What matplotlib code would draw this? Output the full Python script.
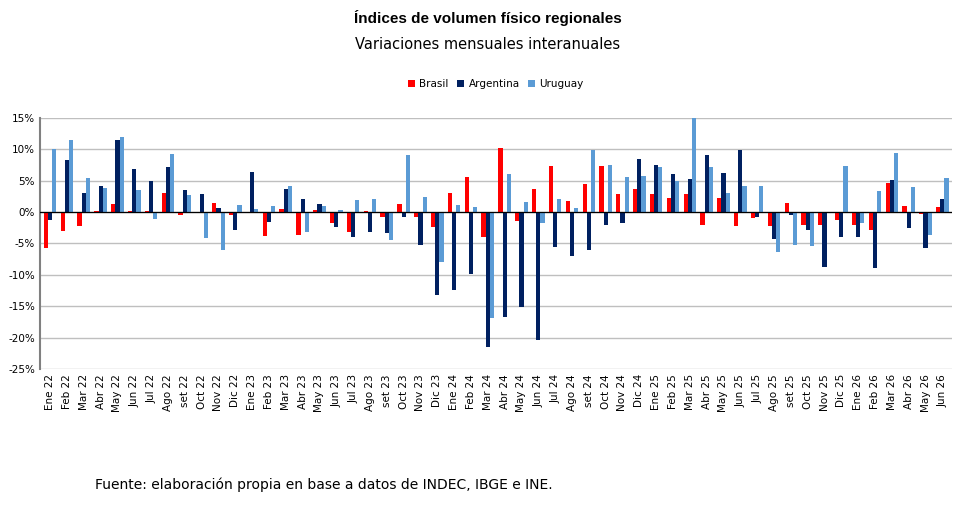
import matplotlib
matplotlib.use("Agg")
import matplotlib.pyplot as plt
import numpy as np

months = ["Ene 22","Feb 22","Mar 22","Abr 22","May 22","Jun 22","Jul 22","Ago 22","set 22","Oct 22","Nov 22","Dic 22",
          "Ene 23","Feb 23","Mar 23","Abr 23","May 23","Jun 23","Jul 23","Ago 23","set 23","Oct 23","Nov 23","Dic 23",
          "Ene 24","Feb 24","Mar 24","Abr 24","May 24","Jun 24","Jul 24","Ago 24","set 24","Oct 24","Nov 24","Dic 24",
          "Ene 25","Feb 25","Mar 25","Abr 25","May 25","Jun 25","Jul 25","Ago 25","set 25","Oct 25","Nov 25","Dic 25",
          "Ene 26","Feb 26","Mar 26","Abr 26","May 26","Jun 26"]
brasil = [-5.8,-3.0,-2.2,0.2,1.3,0.2,0.2,3.1,-0.4,-0.2,1.4,-0.4,
          -0.2,-3.8,0.5,-3.7,0.4,-1.8,-3.1,0.2,-0.8,1.3,-0.8,-2.4,
          3.1,5.6,-3.9,10.2,-1.4,3.7,7.3,1.8,4.5,7.3,2.8,3.6,
          2.8,2.3,2.8,-2.1,2.3,-2.3,-0.9,-2.3,1.5,-2.1,-2.1,-1.3,
          -2.1,-2.9,4.6,1.0,-0.3,0.8]
argentina = [-1.3,8.3,3.1,4.2,11.5,6.9,5.0,7.2,3.5,2.9,0.6,-2.8,
             6.4,-1.6,3.6,2.0,1.3,-2.4,-4.0,-3.2,-3.4,-0.8,-5.3,-13.2,
             -12.4,-9.8,-21.5,-16.7,-15.1,-20.3,-5.5,-7.0,-6.0,-2.1,-1.8,8.5,
             7.5,6.1,5.3,9.1,6.2,9.8,-0.8,-4.3,-0.4,-2.9,-8.8,-3.9,
             -3.9,-8.9,5.1,-2.6,-5.7,2.0]
uruguay = [10.1,11.5,5.4,3.9,12.0,3.5,-1.1,9.3,2.7,-4.2,-6.0,1.1,
           0.5,1.0,4.2,-3.1,0.9,0.3,1.9,2.1,-4.4,9.1,2.4,-7.9,
           1.1,0.8,-16.8,6.0,1.6,-1.8,2.1,0.6,9.9,7.5,5.5,5.8,
           7.1,4.9,15.2,7.2,3.1,4.2,4.2,-6.3,-5.3,-5.4,-0.2,7.3,
           -1.7,3.3,9.4,4.0,-3.6,5.4]
series = [("Brasil", brasil, "#FF0000"), ("Argentina", argentina, "#002060"), ("Uruguay", uruguay, "#5B9BD5")]
yticks = [15,10,5,0,-5,-10,-15,-20,-25]

fig = plt.figure(figsize=(9.76,5.12), dpi=100)
ax = fig.add_axes([0.041,0.279,0.934,0.491])
x = np.arange(len(months))
w = 0.25
for i,(name,vals,c) in enumerate(series):
    ax.bar(x+(i-1)*w, vals, w, color=c, label=name, zorder=3)
ax.set_xlim(-0.6, len(months)-0.45)
ax.set_ylim(-25,15)
ax.set_yticks(yticks)
ax.set_yticklabels([f"{t}%" for t in yticks], fontsize=7.5)
ax.set_xticks(x)
ax.set_xticklabels(months, rotation=90, fontsize=7.5)
ax.tick_params(length=0)
ax.grid(axis='y', color='#BFBFBF', lw=1, zorder=0)
ax.axhline(0, color='black', lw=0.9, zorder=4)
for s in ['top','right','bottom']:
    ax.spines[s].set_visible(False)
ax.spines['left'].set_color('#808080')
ax.spines['left'].set_linewidth(1.5)
fig.text(0.5, 0.955, "Índices de volumen físico regionales", ha='center', fontsize=11, fontweight='bold', fontfamily='Liberation Sans Narrow' if False else 'DejaVu Sans Condensed' if False else 'Liberation Sans')
fig.text(0.5, 0.905, "Variaciones mensuales interanuales", ha='center', fontsize=10.5)
ax.legend(loc='upper center', bbox_to_anchor=(0.5, 1.19), ncol=3, frameon=False, fontsize=7.5,
          handlelength=0.7, handleheight=0.7, columnspacing=0.8, handletextpad=0.4)
fig.text(0.097, 0.045, "Fuente: elaboración propia en base a datos de INDEC, IBGE e INE.", fontsize=10)
fig.savefig("out.png", dpi=100)
